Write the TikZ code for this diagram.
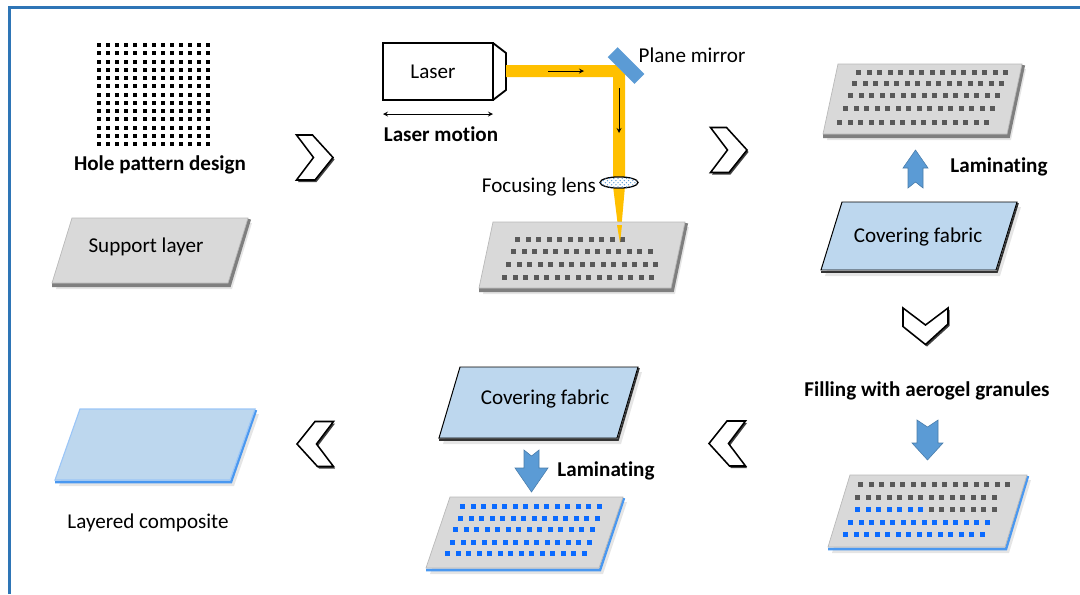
\documentclass[tikz,border=0pt]{standalone}
\usepackage{fontspec}
\setmainfont{Carlito}[Ligatures={NoCommon}]
\usetikzlibrary{patterns}

\definecolor{frameblue}{HTML}{2E75B6}
\definecolor{beam}{HTML}{FFC000}
\definecolor{mirrorblue}{HTML}{5B9BD5}
\definecolor{fabric}{HTML}{BDD7EE}
\definecolor{plategray}{HTML}{D9D9D9}
\definecolor{edgegray}{HTML}{7F7F7F}
\definecolor{holegray}{HTML}{595959}
\definecolor{granule}{HTML}{0A6AFF}
\definecolor{rimblue}{HTML}{4A98F0}

% slab: face style, rim style, left x, right x, top y, bottom y, slant
\newcommand{\slab}[7]{%
  \fill[black!10] (#3+4,#5+5) -- (#4+4,#5+5) -- (#4-#7+4,#6+6) -- (#3-#7+4,#6+6) -- cycle;
  \draw[#2] (#3-#7,#6+2) -- (#4-#7+1,#6+2) -- (#4+1,#5+1);
  \filldraw[#1] (#3,#5) -- (#4,#5) -- (#4-#7,#6) -- (#3-#7,#6) -- cycle;
}
% row of square holes: style, first x, y, last index, pitch
\newcommand{\holerow}[5]{%
  \foreach \k in {0,...,#4} \fill[#1] (#2+\k*#5,#3-2.5) rectangle ++(5,5);
}
% chevron: centre x, centre y, angle
\newcommand{\chevron}[3]{%
  \fill[black!75, shift={(#1+1.5,#2+2)}, rotate=#3]
    (-18,-22.5) -- (-2,-22.5) -- (18.5,0) -- (0.5,22.5) -- (-18,22.5) -- (-1,0) -- cycle;
  \filldraw[fill=white, draw=black, line width=1.1pt, line join=miter, shift={(#1,#2)}, rotate=#3]
    (-18,-22.5) -- (-2,-22.5) -- (18.5,0) -- (0.5,22.5) -- (-18,22.5) -- (-1,0) -- cycle;
}

\begin{document}
\begin{tikzpicture}[x=0.025cm,y=-0.025cm,>=stealth,
  lbl/.style={font=\fontsize{15}{18}\selectfont},
  lblb/.style={font=\fontsize{15}{18}\selectfont\bfseries},
  grayface/.style={fill=plategray, draw=gray!55, line width=0.5pt},
  grayrim/.style={draw=edgegray, line width=3pt},
  bluerim/.style={draw=rimblue, line width=1.8pt},
  fabricface/.style={fill=fabric, draw=black, line width=0.7pt},
  fabricrim/.style={draw=black!80, line width=1.2pt},
  compface/.style={fill=fabric, draw=rimblue!55, line width=0.8pt},
  blockarrow/.style={fill=mirrorblue, draw=mirrorblue!80!black, line width=0.4pt}]
\useasboundingbox (0,0) rectangle (1080,594);

% frame
\draw[frameblue, line width=2.2pt] (9.5,594) -- (9.5,7.5) -- (1080,7.5);

% hole pattern
\foreach \i in {0,...,12}
  \foreach \j in {0,...,12}
    \fill[black] (97+\i*9.1,43+\j*8.25) rectangle ++(4,4);
\node[lblb] (hpd) at (160,165) {Hole pattern design};

% support layer
\slab{grayface}{grayrim}{72}{248}{218}{283}{20}
\node[lbl] (sup) at (146,247) {Support layer};

% laser head
\draw[line width=1.3pt, fill=white] (383,43) rectangle (493,100);
\draw[line width=1.3pt, line join=round] (493,43) -- (506,53) -- (506,90) -- (493,100);
\node[lbl] (las) at (433,72) {Laser};
\coordinate (m1) at (383,114);
\coordinate (m2) at (493,114);
\draw[<->, line width=0.6pt] (m1) -- (m2);
\node[lblb] (mot) at (441,134) {Laser motion};

% beam path
\fill[beam] (506,65) -- (615.6,65) -- (625,74.4) -- (625,186) -- (613,186) -- (613,77) -- (506,77) -- cycle;
\fill[beam] (613,186) -- (625,186) -- (620,243) -- cycle;
\coordinate (b1) at (548,71);
\coordinate (b2) at (584,71);
\coordinate (b3) at (619,88);
\coordinate (b4) at (619,133);
\draw[->, line width=0.6pt] (b1) -- (b2);
\draw[->, line width=0.6pt] (b3) -- (b4);

% mirror
\fill[mirrorblue] (607.7,57.1) -- (617.6,47.2) -- (644.4,74) -- (634.5,83.9) -- cycle;
\node[lbl] (pm) at (692,55) {Plane mirror};

% lens
\draw[line width=0.9pt, fill=white, postaction={pattern=crosshatch dots, pattern color=mirrorblue}]
  (619,182.5) ellipse [x radius=0.475cm, y radius=0.14cm];
\node[lbl, anchor=east] (fl) at (601,187) {Focusing lens};

% plate under the laser
\slab{grayface}{grayrim}{493}{685}{222}{288}{14}
\holerow{holegray}{515}{239}{10}{10.5}
\holerow{holegray}{511}{251}{13}{10.5}
\holerow{holegray}{506}{264}{14}{10.5}
\holerow{holegray}{502}{277}{14}{10.5}
\fill[beam] (617,225) -- (622,225) -- (620,243) -- cycle;

% perforated layer
\slab{grayface}{grayrim}{838}{1022}{64}{134}{15}
\holerow{holegray}{856}{72}{14}{10.5}
\holerow{holegray}{852}{83}{14}{10.5}
\holerow{holegray}{848}{95}{14}{10.5}
\holerow{holegray}{843}{108}{14}{10.5}
\holerow{holegray}{837}{122}{14}{10.5}

% laminating up
\fill[blockarrow] (915.5,150) -- (928,168) -- (923,168) -- (923,188) -- (915.5,182) -- (908,188) -- (908,168) -- (903,168) -- cycle;
\node[lblb] (lam1) at (999,167) {Laminating};

% covering fabric, right
\slab{fabricface}{fabricrim}{842}{1017}{202}{270}{21}
\node[lbl] (cov1) at (918,237) {Covering fabric};

% filling
\node[lblb] (fill) at (927,391) {Filling with aerogel granules};
\fill[blockarrow] (917,420) -- (927.5,427) -- (938,420) -- (938,443) -- (943,443) -- (927.5,460) -- (912,443) -- (917,443) -- cycle;

\slab{grayface}{bluerim}{850}{1027}{475}{547}{22}
\holerow{holegray}{858}{484}{14}{10.5}
\holerow{holegray}{855}{497}{13}{10.5}
\holerow{granule}{855}{509}{6}{10.5}
\holerow{holegray}{928.5}{509}{6}{10.5}
\holerow{granule}{848}{522}{13}{10.5}
\holerow{granule}{843}{534}{13}{10.5}

% covering fabric, bottom
\slab{fabricface}{fabricrim}{460}{638}{367}{438}{21}
\node[lbl] (cov2) at (545,399) {Covering fabric};

\fill[blockarrow] (524,450) -- (531.5,456) -- (539,450) -- (539,468) -- (548,468) -- (531.5,492) -- (515,468) -- (524,468) -- cycle;
\node[lblb] (lam2) at (606,471) {Laminating};

\slab{grayface}{bluerim}{450}{623}{497}{568}{24}
\holerow{granule}{460}{506}{13}{10.5}
\holerow{granule}{458}{518}{13}{10.5}
\holerow{granule}{453}{529}{13}{10.5}
\holerow{granule}{450}{542}{13}{10.5}
\holerow{granule}{445}{553}{13}{10.5}

% layered composite
\slab{compface}{bluerim}{80}{255}{409}{480}{25}
\node[lbl] (lc) at (148,523) {Layered composite};

% process chevrons
\chevron{314.5}{157.5}{0}
\chevron{728.5}{150}{0}
\chevron{925.5}{326}{-90}
\chevron{727.5}{443.5}{180}
\chevron{315.5}{444}{180}
\end{tikzpicture}
\end{document}
